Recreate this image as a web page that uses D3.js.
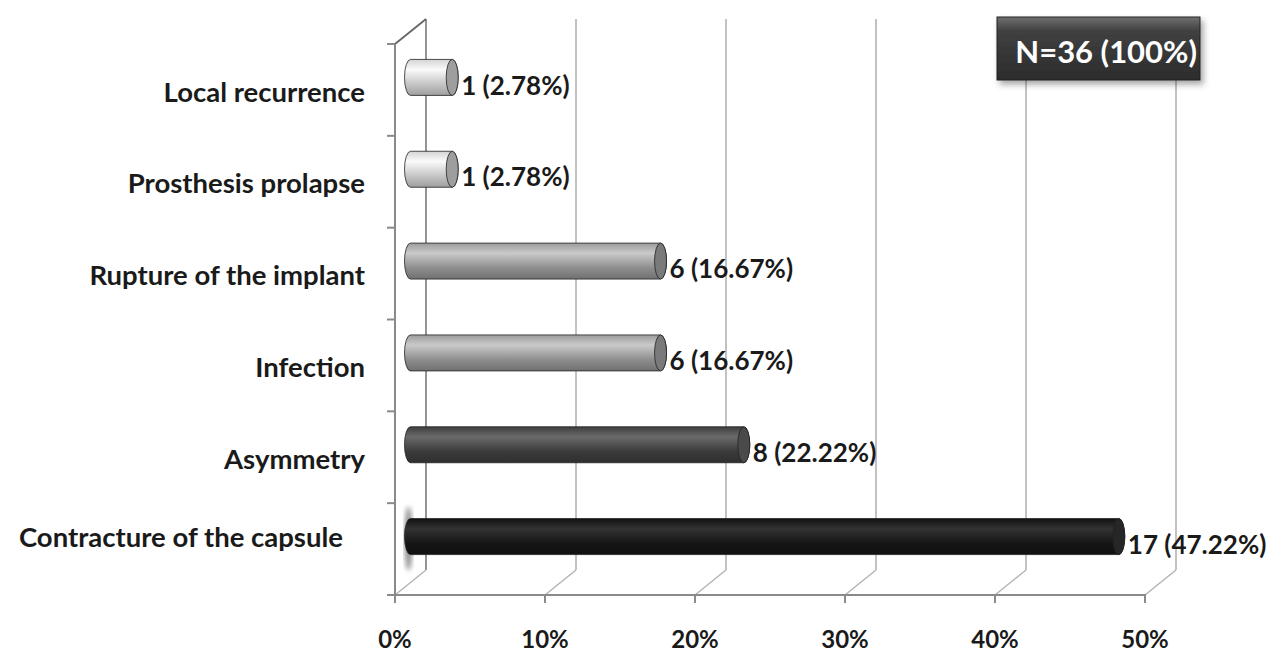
<!DOCTYPE html>
<html>
<head>
<meta charset="utf-8">
<script src="https://cdn.jsdelivr.net/npm/d3@7"></script>
<style>
  html, body { margin: 0; padding: 0; background: #fff; }
  svg { display: block; }
  text { font-family: Lato, "Open Sans", sans-serif; font-weight: 700; fill: #1a1a1a; }
</style>
</head>
<body>
<svg id="chart" width="1272" height="653"></svg>
<script>
// Complications, listed top to bottom
const categories = ["Local recurrence", "Prosthesis prolapse", "Rupture of the implant",
                    "Infection", "Asymmetry", "Contracture of the capsule"];
const counts   = [1, 1, 6, 6, 8, 17];
const percents = [2.78, 2.78, 16.67, 16.67, 22.22, 47.22];
const xTicks   = [0, 10, 20, 30, 40, 50];
const total    = 36;

// bar shading: [top, highlight, bottom, end cap]
const shades = [
  ["#d4d4d4", "#fafafa", "#c4c4c4", "#9e9e9e"],
  ["#d4d4d4", "#fafafa", "#c4c4c4", "#9e9e9e"],
  ["#9c9c9c", "#cacaca", "#8c8c8c", "#7a7a7a"],
  ["#9c9c9c", "#cacaca", "#8c8c8c", "#7a7a7a"],
  ["#3e3e3e", "#6a6a6a", "#3a3a3a", "#4a4a4a"],
  ["#111111", "#333333", "#151515", "#262626"]
];

const svg = d3.select("#chart");
const plotLeft = 395, plotRight = 1145, plotTop = 44, plotBottom = 595;
const depthX = 31, depthY = -25;           // 3-D wall offset

const x = d3.scaleLinear().domain([0, 50]).range([plotLeft, plotRight]);
const y = d3.scaleBand().domain(categories).range([plotTop, plotBottom]);

const defs = svg.append("defs");
categories.forEach((c, i) => {
  const g = defs.append("linearGradient").attr("id", "cyl" + i)
    .attr("x1", 0).attr("y1", 0).attr("x2", 0).attr("y2", 1);
  const s = shades[i];
  g.append("stop").attr("offset", "0%").attr("stop-color", s[0]);
  g.append("stop").attr("offset", "28%").attr("stop-color", s[1]);
  g.append("stop").attr("offset", "70%").attr("stop-color", s[2]);
  g.append("stop").attr("offset", "100%").attr("stop-color", d3.color(s[2]).darker(0.6));
});
defs.append("filter").attr("id", "soft").append("feGaussianBlur").attr("stdDeviation", 2.5);
const boxGrad = defs.append("linearGradient").attr("id", "boxg")
  .attr("x1", 0).attr("y1", 0).attr("x2", 0).attr("y2", 1);
boxGrad.append("stop").attr("offset", "0%").attr("stop-color", "#707070");
boxGrad.append("stop").attr("offset", "22%").attr("stop-color", "#404040");
boxGrad.append("stop").attr("offset", "100%").attr("stop-color", "#2c2c2c");
const shadowF = defs.append("filter").attr("id", "shadow")
  .attr("x", "-10%").attr("y", "-10%").attr("width", "130%").attr("height", "140%");
shadowF.append("feDropShadow").attr("dx", 3).attr("dy", 4).attr("stdDeviation", 3)
  .attr("flood-color", "#000").attr("flood-opacity", 0.35);

// back wall gridlines
const grid = svg.append("g");
grid.selectAll("line.v").data(xTicks).join("line")
  .attr("x1", d => x(d) + depthX).attr("x2", d => x(d) + depthX)
  .attr("y1", plotTop + depthY).attr("y2", plotBottom + depthY)
  .attr("stroke", d => d === 0 ? "#7a7a7a" : "#b3b3b3").attr("stroke-width", 1.6);
// floor diagonals
grid.selectAll("line.f").data(xTicks).join("line")
  .attr("x1", d => x(d)).attr("y1", plotBottom)
  .attr("x2", d => x(d) + depthX).attr("y2", plotBottom + depthY)
  .attr("stroke", "#b3b3b3").attr("stroke-width", 1.4);
// top of side wall
grid.append("line")
  .attr("x1", x(0)).attr("y1", plotTop).attr("x2", x(0) + depthX).attr("y2", plotTop + depthY)
  .attr("stroke", "#666").attr("stroke-width", 1.8);

// front axes
const axes = svg.append("g").attr("stroke", "#8a8a8a").attr("stroke-width", 2);
axes.append("line").attr("x1", plotLeft).attr("x2", plotLeft).attr("y1", plotTop).attr("y2", plotBottom + 8);
axes.append("line").attr("x1", plotLeft - 8).attr("x2", plotRight + 1).attr("y1", plotBottom).attr("y2", plotBottom);
const bounds = categories.map(c => y(c)).concat([plotBottom]);
axes.selectAll("line.yt").data(bounds).join("line")
  .attr("x1", plotLeft - 8).attr("x2", plotLeft).attr("y1", d => d).attr("y2", d => d);
axes.selectAll("line.xt").data(xTicks).join("line")
  .attr("x1", d => x(d)).attr("x2", d => x(d)).attr("y1", plotBottom).attr("y2", plotBottom + 8);

// tick labels
svg.append("g").selectAll("text").data(xTicks).join("text")
  .attr("x", d => x(d)).attr("y", 640).attr("dy", "0.35em")
  .attr("text-anchor", "middle").style("font-size", "24px")
  .text(d => d + "%");

// category labels
svg.append("g").selectAll("text").data(categories).join("text")
  .attr("x", (d, i) => i === categories.length - 1 ? 343 : 365)
  .attr("y", (d, i) => y(d) + y.bandwidth() / 2 + 2 + (i === categories.length - 1 ? -14 : 0))
  .attr("dy", "0.35em").attr("text-anchor", "end").style("font-size", "27.5px")
  .text(d => d);

// cylinders
const rx = 6, half = 18;
const x0 = x(0) + depthX / 2;
const bars = svg.append("g");
categories.forEach((c, i) => {
  const cy = y(c) + y.bandwidth() / 2 + depthY / 2;
  const x1 = x(percents[i]) + depthX / 2;
  if (i === categories.length - 1) {
    bars.append("ellipse").attr("cx", x0 - 2).attr("cy", cy + 2).attr("rx", 4).attr("ry", 32)
      .attr("fill", "#8c8c8c").attr("filter", "url(#soft)");
  }
  const body = `M${x1},${cy - half} L${x0},${cy - half} ` +
    `A${rx},${half} 0 0 0 ${x0},${cy + half} L${x1},${cy + half} ` +
    `A${rx},${half} 0 0 0 ${x1},${cy - half} Z`;
  bars.append("path").attr("d", body).attr("fill", `url(#cyl${i})`)
    .attr("stroke", "#222").attr("stroke-width", 0.8);
  bars.append("ellipse").attr("cx", x1).attr("cy", cy).attr("rx", rx).attr("ry", half)
    .attr("fill", shades[i][3]).attr("stroke", "#222").attr("stroke-width", 0.8);
  svg.append("text").attr("x", x1 + rx + 3).attr("y", cy + 8).attr("dy", "0.35em")
    .style("font-size", "26px")
    .text(`${counts[i]} (${percents[i].toFixed(2)}%)`);
});

// total box
const box = svg.append("g");
box.append("rect").attr("x", 997).attr("y", 17).attr("width", 203).attr("height", 63)
  .attr("fill", "url(#boxg)").attr("stroke", "#222").attr("stroke-width", 1)
  .attr("filter", "url(#shadow)");
box.append("text").attr("x", 1197).attr("y", 52).attr("dy", "0.35em")
  .attr("text-anchor", "end").style("font-size", "31px").style("fill", "#fff")
  .text(`N=${total} (100%)`);
</script>
</body>
</html>
